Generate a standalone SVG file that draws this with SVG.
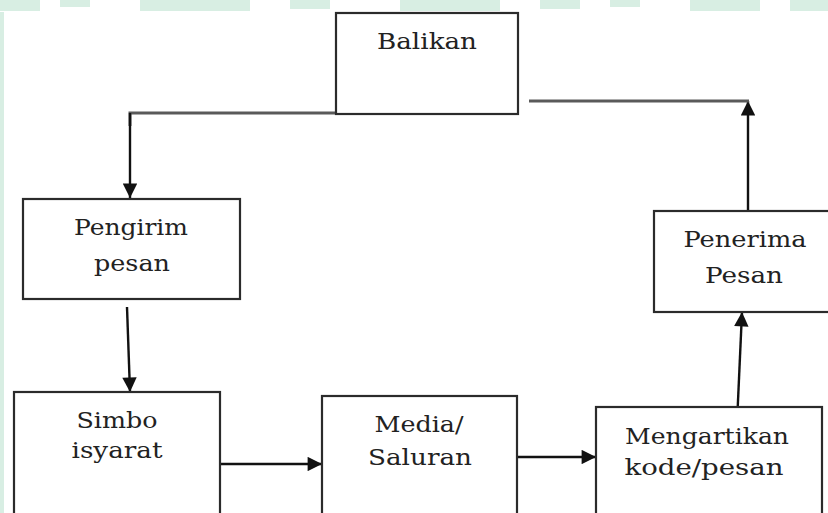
<svg xmlns="http://www.w3.org/2000/svg" width="828" height="513" viewBox="0 0 828 513">
  <defs>
    <marker id="arr" viewBox="0 0 10 10" refX="10" refY="5" markerWidth="6.5" markerHeight="6" orient="auto" markerUnits="strokeWidth">
      <path d="M0,0 L10,5 L0,10 Z" fill="#111"/>
    </marker>
  </defs>
  <style>
    .box { fill: #ffffff; stroke: #2b2b2b; stroke-width: 2.2; }
    .lbl { font-family: "DejaVu Serif", "Liberation Serif", serif; font-size: 23px; fill: #222222; text-anchor: middle; }
    .con { fill: none; stroke: #111; stroke-width: 2.4; }
    .fb { fill: none; stroke: #5a5a5a; stroke-width: 3; }
    .wm { fill: #d8eee3; }
  </style>
  <rect width="828" height="513" fill="#ffffff"/>
  <g id="watermark">
    <rect class="wm" x="0" y="0" width="40" height="11"/>
    <rect class="wm" x="60" y="0" width="30" height="7"/>
    <rect class="wm" x="140" y="0" width="110" height="11"/>
    <rect class="wm" x="290" y="0" width="40" height="9"/>
    <rect class="wm" x="400" y="0" width="100" height="11"/>
    <rect class="wm" x="540" y="0" width="40" height="9"/>
    <rect class="wm" x="610" y="0" width="30" height="7"/>
    <rect class="wm" x="690" y="0" width="70" height="11"/>
    <rect class="wm" x="790" y="0" width="38" height="11"/>
    <rect class="wm" x="0" y="12" width="4" height="501"/>
  </g>
  <g id="connectors">
    <polyline class="fb" points="336,113 130,113 130,126"/>
    <line class="con" x1="130" y1="113" x2="130" y2="198" marker-end="url(#arr)"/>
    <line class="con" x1="127" y1="307" x2="130" y2="392" marker-end="url(#arr)"/>
    <line class="con" x1="220" y1="464" x2="322" y2="464" marker-end="url(#arr)"/>
    <line class="con" x1="517" y1="457" x2="596" y2="457" marker-end="url(#arr)"/>
    <line class="con" x1="737" y1="423" x2="742" y2="312" marker-end="url(#arr)"/>
    <line class="con" x1="748" y1="211" x2="748" y2="101" marker-end="url(#arr)"/>
    <line class="fb" x1="529" y1="101" x2="749" y2="101"/>
  </g>
  <g id="balikan">
    <rect class="box" x="336" y="13" width="182" height="101"/>
    <text class="lbl" x="427" y="49" textLength="100" lengthAdjust="spacingAndGlyphs">Balikan</text>
  </g>
  <g id="pengirim">
    <rect class="box" x="23" y="199" width="217" height="100"/>
    <text class="lbl" x="131" y="235" textLength="114" lengthAdjust="spacingAndGlyphs">Pengirim</text>
    <text class="lbl" x="132" y="271" textLength="76" lengthAdjust="spacingAndGlyphs">pesan</text>
  </g>
  <g id="simbo">
    <rect class="box" x="14" y="392" width="206" height="130"/>
    <text class="lbl" x="117" y="428" textLength="81" lengthAdjust="spacingAndGlyphs">Simbo</text>
    <text class="lbl" x="117" y="458" textLength="91" lengthAdjust="spacingAndGlyphs">isyarat</text>
  </g>
  <g id="media">
    <rect class="box" x="322" y="396" width="195" height="130"/>
    <text class="lbl" x="419" y="432" textLength="89" lengthAdjust="spacingAndGlyphs">Media/</text>
    <text class="lbl" x="420" y="465" textLength="104" lengthAdjust="spacingAndGlyphs">Saluran</text>
  </g>
  <g id="mengartikan">
    <rect class="box" x="596" y="407" width="226" height="120"/>
    <text class="lbl" x="707" y="444" textLength="164" lengthAdjust="spacingAndGlyphs">Mengartikan</text>
    <text class="lbl" x="704" y="475" textLength="159" lengthAdjust="spacingAndGlyphs">kode/pesan</text>
  </g>
  <g id="penerima">
    <rect class="box" x="654" y="211" width="190" height="101"/>
    <text class="lbl" x="745" y="247" textLength="123" lengthAdjust="spacingAndGlyphs">Penerima</text>
    <text class="lbl" x="744" y="283" textLength="78" lengthAdjust="spacingAndGlyphs">Pesan</text>
  </g>
</svg>
